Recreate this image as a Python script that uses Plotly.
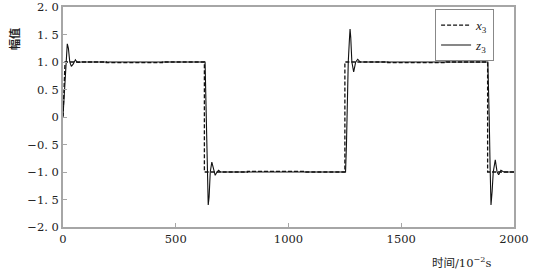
import plotly.graph_objects as go

# time axis values (10^-2 s) and signals
t_x3 = [0, 5, 9, 192, 192, 441, 441, 627, 627, 818, 818, 1070, 1070,
        1250, 1250, 1440, 1440, 1700, 1700, 1883, 1883, 2000]
x3 = [0, 0.7, 1.0, 1.0, 0.988, 0.988, 1.0, 1.0, -1.0, -1.0, -0.988, -0.988, -1.0,
      -1.0, 1.0, 1.0, 0.988, 0.988, 1.0, 1.0, -1.0, -1.0]

t_z3 = [0, 4, 8, 13, 19, 24, 30, 37, 45, 55, 62, 68, 80,
        630, 634, 638, 641, 644, 648, 653, 660, 667, 675, 683, 690, 698,
        1253, 1257, 1261, 1265, 1270, 1273, 1276, 1281, 1289, 1298, 1307, 1318,
        1884, 1887, 1890, 1894, 1898, 1903, 1908, 1917, 1925, 1932, 1942, 1955, 2000]
z3 = [0.02, 0.3, 0.72, 1.1, 1.33, 1.25, 1.0, 0.92, 0.96, 1.04, 1.0, 0.99, 1.0,
      1.0, 0.3, -0.5, -1.2, -1.6, -1.45, -1.0, -0.82, -0.95, -1.06, -1.0, -0.97, -1.0,
      -1.0, -0.5, 0.3, 1.0, 1.4, 1.6, 1.45, 1.0, 0.82, 1.0, 1.05, 1.0,
      1.0, 0.6, 0.0, -0.9, -1.6, -1.35, -1.0, -0.78, -1.0, -1.05, -0.97, -1.0, -1.0]

y_ticks = [2.0, 1.5, 1.0, 0.5, 0, -0.5, -1.0, -1.5, -2.0]
y_labels = ["2. 0", "1. 5", "1. 0", "0. 5", "0", "\u22120. 5", "\u22121. 0", "\u22121. 5", "\u22122. 0"]
x_ticks = [0, 500, 1000, 1500, 2000]

serif = "DejaVu Serif"
times = "Liberation Serif"
cjk = "Noto Sans CJK SC"
frame = "#a6a6a6"
txt = "#222222"

fig = go.Figure()
fig.add_trace(go.Scatter(x=t_z3, y=z3, mode="lines", name="<i>z</i><sub>3</sub>",
                         line=dict(color="#111111", width=1.1)))
fig.add_trace(go.Scatter(x=t_x3, y=x3, mode="lines", name="<i>x</i><sub>3</sub>",
                         line=dict(color="#111111", width=1.3, dash="4px,2px")))

fig.update_layout(
    width=535, height=270,
    margin=dict(l=63, r=21, t=7, b=43),
    paper_bgcolor="white", plot_bgcolor="white",
    font=dict(family=serif, size=11, color=txt),
    showlegend=True,
    legend=dict(x=0.825, y=0.99, xanchor="left", yanchor="top",
                bordercolor="#888888", borderwidth=1, bgcolor="white",
                traceorder="reversed",
                font=dict(family=times, size=13, color=txt),
                itemwidth=30, tracegroupgap=0),
    xaxis=dict(range=[0, 2000], tickvals=x_ticks, ticks="inside", ticklen=4,
               tickcolor=frame, showline=True, linecolor=frame, linewidth=1.5,
               mirror=True, showgrid=False, zeroline=False, automargin=False,
               tickfont=dict(family=serif, size=11.5, color=txt)),
    yaxis=dict(range=[-2, 2], tickvals=y_ticks, ticktext=y_labels, ticks="inside",
               ticklen=4, tickcolor=frame, showline=True, linecolor=frame,
               linewidth=1.5, mirror=True, showgrid=False, zeroline=False,
               automargin=False,
               tickfont=dict(family=serif, size=11.5, color=txt)),
    annotations=[
        dict(text="<span style='font-family:Noto Sans CJK SC'>时间</span>/10<sup>\u22122</sup>s",
             xref="paper", yref="paper",
             x=(461 - 63) / 451, y=-(262 - 227) / 220, xanchor="center", yanchor="middle",
             showarrow=False, font=dict(family=serif, size=11.5, color=txt)),
        dict(text="<b>幅值</b>", xref="paper", yref="paper",
             x=-(63 - 14) / 451, y=(227 - 39) / 220, xanchor="center", yanchor="middle",
             textangle=-90, showarrow=False,
             font=dict(family=cjk, size=11, color=txt)),
    ],
)

fig.write_html("out.html")
